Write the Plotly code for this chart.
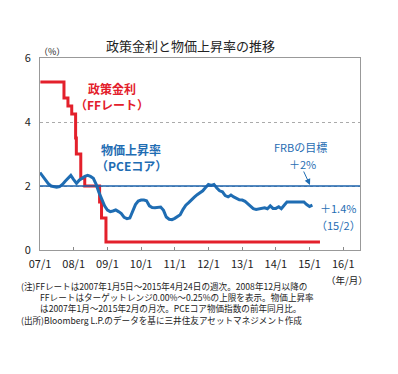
import plotly.graph_objects as go
import pandas as pd

# ---- Data ----
ff_dates = ["2007-01-05", "2007-09-18", "2007-10-31", "2007-12-11", "2008-01-22",
            "2008-01-30", "2008-03-18", "2008-04-30", "2008-10-08", "2008-10-29",
            "2008-12-16", "2015-04-24"]
ff_rate = [5.25, 4.75, 4.50, 4.25, 3.50, 3.00, 2.25, 2.00, 1.50, 1.00, 0.25, 0.25]

pce_start = "2007-01-01"
pce_core = [2.42, 2.30, 2.18, 2.07, 2.00, 1.97, 1.96, 1.98, 2.05, 2.15, 2.25, 2.33,
            2.20, 2.08, 2.18, 2.24, 2.30, 2.33, 2.30, 2.24, 2.05, 1.80, 1.58, 1.38,
            1.25, 1.20, 1.22, 1.25, 1.20, 1.14, 1.02, 0.98, 1.00, 1.22, 1.42, 1.53,
            1.56, 1.56, 1.54, 1.38, 1.33, 1.32, 1.33, 1.34, 1.24, 1.03, 0.96, 0.95,
            0.99, 1.05, 1.10, 1.27, 1.40, 1.48, 1.58, 1.65, 1.73, 1.78, 1.85, 1.95,
            2.05, 2.02, 2.05, 1.94, 1.85, 1.82, 1.70, 1.66, 1.72, 1.66, 1.60, 1.57,
            1.56, 1.52, 1.45, 1.36, 1.29, 1.27, 1.28, 1.30, 1.32, 1.29, 1.38, 1.30,
            1.30, 1.35, 1.29, 1.40, 1.50, 1.50, 1.50, 1.49, 1.48, 1.49, 1.50, 1.42,
            1.36, 1.40]
pce_dates = pd.date_range(pce_start, periods=len(pce_core), freq="MS")

target = 2.0
x_ticks = [f"{y}-01-01" for y in range(2007, 2017)]
x_tick_labels = [f"{y % 100:02d}/1" for y in range(2007, 2017)]
y_ticks = [0, 2, 4, 6]

title = "政策金利と物価上昇率の推移"
notes = [
    "(注)FFレートは2007年1月5日～2015年4月24日の週次。2008年12月以降の",
    "　　 FFレートはターゲットレンジ0.00%～0.25%の上限を表示。物価上昇率",
    "　　 は2007年1月～2015年2月の月次。PCEコア物価指数の前年同月比。",
    "(出所)Bloomberg L.P.のデータを基に三井住友アセットマネジメント作成",
]

# ---- Figure ----
OFF = 8  # page body margin
W, H = 398 - OFF, 374 - OFF
L, R, T, B = 40, 360, 58, 250   # plot area in window pixels
FONT = "Noto Sans CJK JP"
RED = "#e3202b"
BLUE = "#1f6db3"
TXT = "#222222"

def px(x):
    return (x - L) / (R - L)

def py(y):
    return (B - y) / (B - T)

fig = go.Figure()
fig.add_trace(go.Scatter(x=ff_dates, y=ff_rate, mode="lines", line_shape="hv",
                         line=dict(color=RED, width=3), hoverinfo="skip"))
fig.add_trace(go.Scatter(x=pce_dates, y=pce_core, mode="lines",
                         line=dict(color=BLUE, width=3), hoverinfo="skip"))

fig.add_shape(type="line", xref="paper", yref="y", x0=0, x1=1, y0=target, y1=target,
              line=dict(color="#1a62ad", width=1.6), layer="above")

ann = []
def text(x, y, s, color=TXT, size=10, anchor="center", bold=False, yanchor="middle"):
    ann.append(dict(x=px(x), y=py(y), xref="paper", yref="paper", text=(f"<b>{s}</b>" if bold else s),
                    showarrow=False, xanchor=anchor, yanchor=yanchor, align="left",
                    font=dict(family=FONT, size=size, color=color)))

text(190, 45, title, size=13)
text(52, 51, "（%）", size=9)
text(112, 88, "政策金利", RED, 12, bold=True)
text(112, 104, "（FFレート）", RED, 12, bold=True)
text(131, 149, "物価上昇率", BLUE, 12, bold=True)
text(131, 165, "（PCEコア）", BLUE, 12, bold=True)
text(300, 147, "FRBの目標", BLUE, 11)
text(302, 164, "＋2%", BLUE, 11)
text(338, 208, "＋1.4%", BLUE, 11)
text(338, 225, "（15/2）", BLUE, 11)
text(347, 280, "（年/月）", TXT, 9.5)
text(19, 278, "<br>".join(notes), TXT, 8.6, anchor="left", yanchor="top")

ann.append(dict(x=px(310), y=py(185), xref="paper", yref="paper", text="",
                showarrow=True, ax=-7, ay=-15, arrowhead=2, arrowsize=1.2,
                arrowwidth=1, arrowcolor=BLUE))

fig.update_layout(
    width=W, height=H,
    margin=dict(l=L - OFF, r=W + OFF - R, t=T - OFF, b=H + OFF - B),
    paper_bgcolor="white", plot_bgcolor="white",
    showlegend=False,
    annotations=ann,
    font=dict(family=FONT, size=11, color=TXT),
)
fig.update_xaxes(range=["2007-01-01", "2016-07-01"], tickvals=x_ticks, ticktext=x_tick_labels,
                 ticks="inside", ticklen=3, tickcolor="#888888", showgrid=False,
                 showline=True, linecolor="#999999", linewidth=1, mirror=True,
                 tickfont=dict(family=FONT, size=11, color=TXT), ticklabelstandoff=4,
                 zeroline=False, automargin=False)
fig.update_yaxes(range=[0, 6], tickvals=y_ticks, ticks="", showgrid=True,
                 gridcolor="#aaaaaa", griddash="dot", gridwidth=1,
                 showline=True, linecolor="#999999", linewidth=1, mirror=True,
                 tickfont=dict(family=FONT, size=11, color=TXT), ticklabelstandoff=6,
                 zeroline=False, automargin=False)

fig.write_html("out.html")
